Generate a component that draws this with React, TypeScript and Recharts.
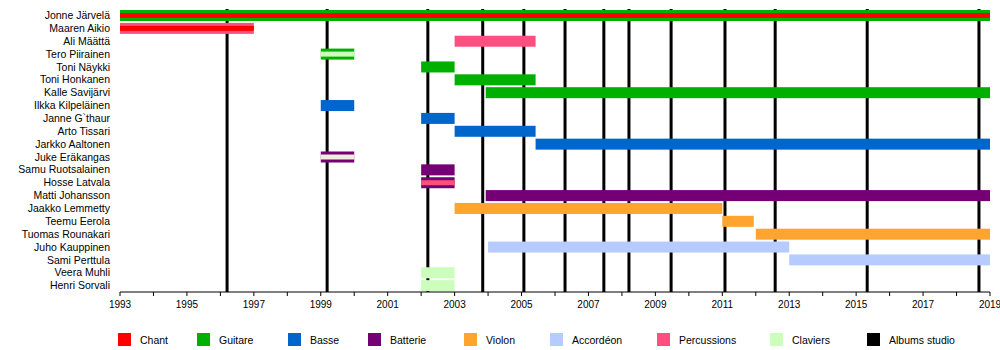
import React from 'react';
import { ComposedChart, Bar, XAxis, YAxis, ReferenceLine } from 'recharts';

const members = [
  'Jonne Järvelä', 'Maaren Aikio', 'Ali Määttä', 'Tero Piirainen', 'Toni Näykki',
  'Toni Honkanen', 'Kalle Savijärvi', 'Ilkka Kilpeläinen', 'Janne G`thaur', 'Arto Tissari',
  'Jarkko Aaltonen', 'Juke Eräkangas', 'Samu Ruotsalainen', 'Hosse Latvala', 'Matti Johansson',
  'Jaakko Lemmetty', 'Teemu Eerola', 'Tuomas Rounakari', 'Juho Kauppinen', 'Sami Perttula',
  'Veera Muhli', 'Henri Sorvali',
];
const starts = [1993, 1993, 2003, 1999, 2002, 2003, 2003.93, 1999, 2002, 2003, 2005.42, 1999, 2002, 2002, 2003.93, 2003, 2011, 2012, 2004, 2013, 2002, 2002];
const ends = [2019, 1997, 2005.42, 2000, 2003, 2005.42, 2019, 2000, 2003, 2005.42, 2019, 2000, 2003, 2003, 2019, 2011, 2011.94, 2019, 2013, 2019, 2003, 2003];
const mainRoles = [
  'Guitare', 'Percussions', 'Percussions', 'Guitare', 'Guitare',
  'Guitare', 'Guitare', 'Basse', 'Basse', 'Basse',
  'Basse', 'Batterie', 'Batterie', 'Batterie', 'Batterie',
  'Violon', 'Violon', 'Violon', 'Accordéon', 'Accordéon',
  'Claviers', 'Claviers',
];
const secondRoles = [
  'Chant', 'Chant', '', 'Claviers', '',
  '', '', '', '', '',
  '', 'Autre', '', 'Percussions', '',
  '', '', '', '', '',
  '', '',
];
const albumYears = [1996.2, 1999.19, 2002.2, 2003.84, 2005.07, 2006.3, 2007.46, 2008.21, 2009.47, 2011.08, 2012.58, 2015.33, 2018.67];
const yearTicks = [1993, 1994, 1995, 1996, 1997, 1998, 1999, 2000, 2001, 2002, 2003, 2004, 2005, 2006, 2007, 2008, 2009, 2010, 2011, 2012, 2013, 2014, 2015, 2016, 2017, 2018, 2019];
const legendLabels = ['Chant', 'Guitare', 'Basse', 'Batterie', 'Violon', 'Accordéon', 'Percussions', 'Claviers', 'Albums studio'];
const legendColors = ['#ff0000', '#00b000', '#0066cc', '#750075', '#ffa42e', '#b6cbff', '#ff4f80', '#ccffbb', '#000000'];
const extraColors: Record<string, string> = { Autre: '#eeeedd' };

const colorOf = (role: string) => {
  const i = legendLabels.indexOf(role);
  return i >= 0 ? legendColors[i] : extraColors[role];
};

const data = members.map((name, i) => ({
  name,
  range: [starts[i], ends[i]],
  main: colorOf(mainRoles[i]),
  second: secondRoles[i] ? colorOf(secondRoles[i]) : null,
}));

const FONT = '"Liberation Sans", Arial, sans-serif';
const W = 1000;
const H = 350;
const MARGIN = { top: 9, right: 10, bottom: 37, left: 0 };
const Y_W = 120;
const X_H = 21;
const LEGEND_W = [79, 91, 80, 96, 86, 107, 113, 97, 100];

const BarShape = (props: any) => {
  const { x, y, width, height, payload } = props;
  const stripe = 5;
  return (
    <g>
      <rect x={x} y={y} width={width} height={height} fill={payload.main} />
      {payload.second && (
        <rect x={x} y={y + (height - stripe) / 2} width={width} height={stripe} fill={payload.second} />
      )}
    </g>
  );
};

const NameTick = (props: any) => {
  const { x, y, payload } = props;
  return (
    <text x={x} y={y} dy="0.35em" textAnchor="end" fontSize={10.5} fontFamily={FONT} fill="#000">
      {payload.value}
    </text>
  );
};

const Legend2 = () => (
  <div style={{ position: 'absolute', left: 118, top: 333, display: 'flex', fontFamily: FONT, fontSize: 10.5, color: '#000', whiteSpace: 'nowrap' }}>
    {legendLabels.map((l, i) => (
      <div key={l} style={{ display: 'flex', alignItems: 'center', width: LEGEND_W[i] }}>
        <div style={{ width: 13, height: 13, background: legendColors[i], marginRight: 9, flexShrink: 0 }} />
        <span>{l}</span>
      </div>
    ))}
  </div>
);

export default function App() {
  return (
    <div style={{ position: 'absolute', left: 0, top: 0, width: W, height: H, background: '#fff' }}>
      {/* underlay: album lines, drawn beneath the bars */}
      <div style={{ position: 'absolute', left: 0, top: 0 }}>
        <ComposedChart
          width={W}
          height={H}
          layout="vertical"
          data={data}
          margin={{ top: MARGIN.top, right: MARGIN.right, bottom: MARGIN.bottom + X_H, left: MARGIN.left + Y_W }}
        >
          <XAxis type="number" domain={[1993, 2019]} allowDataOverflow hide />
          <YAxis type="category" dataKey="name" hide />
          {albumYears.map((yr) => (
            <ReferenceLine key={yr} x={yr} stroke="#000" strokeWidth={3} />
          ))}
        </ComposedChart>
      </div>
      <div style={{ position: 'absolute', left: 0, top: 0 }}>
        <ComposedChart
          width={W}
          height={H}
          layout="vertical"
          data={data}
          margin={MARGIN}
          barCategoryGap={0}
        >
          <XAxis
            type="number"
            domain={[1993, 2019]}
            ticks={yearTicks}
            interval={0}
            allowDataOverflow
            tickFormatter={(v: number) => ((v - 1993) % 2 === 0 ? String(v) : '')}
            tick={{ fontSize: 10, fontFamily: FONT, fill: '#000' }}
            tickSize={4}
            tickMargin={5}
            stroke="#000"
            height={X_H}
          />
          <YAxis
            type="category"
            dataKey="name"
            width={Y_W}
            axisLine={false}
            tickLine={false}
            tickSize={0}
            tickMargin={10}
            interval={0}
            tick={<NameTick />}
          />
          <Bar dataKey="range" barSize={11} shape={BarShape} isAnimationActive={false} />
        </ComposedChart>
      </div>
      <Legend2 />
    </div>
  );
}
